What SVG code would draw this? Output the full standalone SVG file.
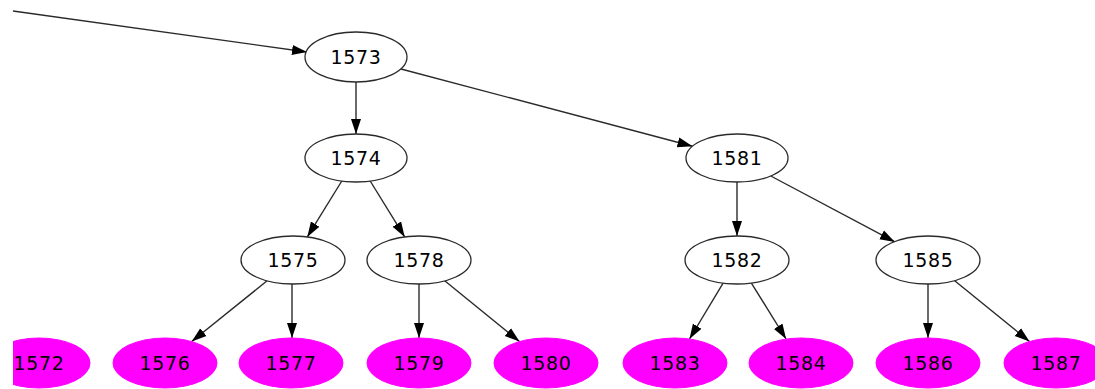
<svg xmlns="http://www.w3.org/2000/svg" width="1095" height="389" viewBox="0 0 1095 389">
<style>
.n ellipse{fill:#ffffff;stroke:#2a2a2a;stroke-width:1.3}
.m ellipse{fill:#ff00ff;stroke:#ff00ff;stroke-width:1}
text{font-family:"DejaVu Sans",sans-serif;font-size:19px;letter-spacing:0.6px;text-anchor:middle;fill:#000000}
#edges path{fill:none;stroke:#2a2a2a;stroke-width:1.4;marker-end:url(#arr)}
</style>
<defs>
<marker id="arr" markerUnits="userSpaceOnUse" markerWidth="16" markerHeight="14" viewBox="0 0 16 14" refX="15" refY="7" orient="auto">
<path d="M0,2 L15,7 L0,12 Z" fill="#000000"/>
</marker>
<clipPath id="clipL"><rect x="13" y="0" width="1082" height="389"/></clipPath>
</defs>
<rect width="1095" height="389" fill="#ffffff"/>
<g id="edges">
<path d="M13,11 L307,52"/>
<path d="M401,69 L692.5,146.2"/>
<path d="M356,82 L356,134"/>
<path d="M341.8,181 L307.3,236.9"/>
<path d="M370.2,181 L404.7,236.9"/>
<path d="M737,182 L737,236"/>
<path d="M770.8,176 L894.9,241.9"/>
<path d="M267.1,280.8 L191.7,341.5"/>
<path d="M292,284 L292,338"/>
<path d="M419,284 L419,338"/>
<path d="M444.7,280.8 L519.5,341.5"/>
<path d="M723.1,283.1 L689.5,339"/>
<path d="M751.4,283.1 L786.1,339"/>
<path d="M928,284 L928,338"/>
<path d="M954.7,280.8 L1029.5,341.5"/>
</g>
<g id="n1573" class="n"><ellipse cx="356" cy="57" rx="51" ry="25"/><text x="356" y="63.5">1573</text></g>
<g id="n1574" class="n"><ellipse cx="356" cy="158" rx="51" ry="24"/><text x="356" y="164.5">1574</text></g>
<g id="n1581" class="n"><ellipse cx="737" cy="158" rx="51" ry="24"/><text x="737" y="164.5">1581</text></g>
<g id="n1575" class="n"><ellipse cx="293" cy="260" rx="52" ry="24"/><text x="293" y="266.5">1575</text></g>
<g id="n1578" class="n"><ellipse cx="419" cy="260" rx="52" ry="24"/><text x="419" y="266.5">1578</text></g>
<g id="n1582" class="n"><ellipse cx="737" cy="260" rx="52" ry="24"/><text x="737" y="266.5">1582</text></g>
<g id="n1585" class="n"><ellipse cx="928" cy="260" rx="52" ry="24"/><text x="928" y="266.5">1585</text></g>
<g id="n1572" class="m" clip-path="url(#clipL)"><ellipse cx="39" cy="363" rx="51" ry="25"/><text x="39" y="369.5">1572</text></g>
<g id="n1576" class="m"><ellipse cx="165" cy="363" rx="52" ry="25"/><text x="165" y="369.5">1576</text></g>
<g id="n1577" class="m"><ellipse cx="291" cy="363" rx="52" ry="25"/><text x="291" y="369.5">1577</text></g>
<g id="n1579" class="m"><ellipse cx="419" cy="363" rx="52" ry="25"/><text x="419" y="369.5">1579</text></g>
<g id="n1580" class="m"><ellipse cx="546" cy="363" rx="52" ry="25"/><text x="546" y="369.5">1580</text></g>
<g id="n1583" class="m"><ellipse cx="675" cy="363" rx="52" ry="25"/><text x="675" y="369.5">1583</text></g>
<g id="n1584" class="m"><ellipse cx="801" cy="363" rx="52" ry="25"/><text x="801" y="369.5">1584</text></g>
<g id="n1586" class="m"><ellipse cx="928" cy="363" rx="52" ry="25"/><text x="928" y="369.5">1586</text></g>
<g id="n1587" class="m"><ellipse cx="1056" cy="363" rx="52" ry="25"/><text x="1056" y="369.5">1587</text></g>
</svg>
